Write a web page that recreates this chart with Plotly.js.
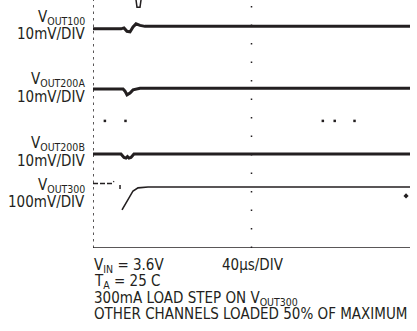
<!DOCTYPE html>
<html><head><meta charset="utf-8">
<script src="https://cdn.plot.ly/plotly-3.0.1.min.js"></script>
<style>html,body{margin:0;padding:0;background:#fff}#chart{width:417px;height:331px}</style>
</head><body><div id="chart"></div>
<script>
// time in µs (40µs/DIV, 10 DIV), vertical position in divisions (0 = bottom, 8 = top)
const v100X = [0, 35.3, 39.1, 42.9, 46.7, 50.5, 54.3, 59.3, 65.6, 400];
const v100Y = [7.07, 7.07, 7.10, 6.99, 6.97, 7.13, 7.23, 7.18, 7.15, 7.15];
const glitchX = [54.3, 55.5, 59.3, 60.6];
const glitchY = [8.0, 7.77, 7.77, 8.0];
const v200aX = [0, 37.9, 40.4, 42.9, 46.7, 50.5, 59.3, 400];
const v200aY = [5.13, 5.13, 5.06, 4.94, 5.0, 5.10, 5.15, 5.15];
const v200bX = [0, 35.3, 39.1, 41.6, 43.5, 45.4, 47.9, 51.7, 400];
const v200bY = [3.03, 3.03, 2.92, 2.90, 2.95, 2.90, 2.92, 3.03, 3.03];
const v300PreX = [0, 24, 26.5];
const v300PreY = [2.08, 2.08, 2.15];
const v300TickX = [34.1, 34.1];
const v300TickY = [2.03, 1.90];
const v300PostX = [36.6, 40.4, 45.4, 50.5, 56.8, 69.4, 400];
const v300PostY = [1.23, 1.39, 1.61, 1.84, 1.94, 1.97, 1.97];
const spikeX = [395];
const spikeY = [1.68];
const gridDotX = [15, 41, 290, 305, 330];
const gridDotY = [4.1, 4.1, 4.1, 4.1, 4.1];

const ink = '#231f20';
const F = '"DejaVu Sans Condensed", "Liberation Sans Narrow", Arial, sans-serif';
const FS = 15;
function tr(x, y, w, dash) {
  return {x: x, y: y, type: 'scatter', mode: 'lines', line: {color: ink, width: w, dash: dash || 'solid'}, hoverinfo: 'skip', showlegend: false};
}
const data = [
  tr(v100X, v100Y, 3), tr(glitchX, glitchY, 1.5),
  tr(v200aX, v200aY, 3), tr(v200bX, v200bY, 3),
  tr(v300PreX, v300PreY, 1.5, '5px,2px'), tr(v300TickX, v300TickY, 1.5),
  tr(v300PostX, v300PostY, 1.6),
  {x: spikeX, y: spikeY, type: 'scatter', mode: 'markers', marker: {color: ink, size: 4, symbol: 'diamond'}, showlegend: false, hoverinfo: 'skip'},
  {x: gridDotX, y: gridDotY, type: 'scatter', mode: 'markers', marker: {color: ink, size: 2.5, symbol: 'square'}, showlegend: false, hoverinfo: 'skip'}
];
const labels = [
  {t: 'V<sub>OUT100</sub>', y: 17}, {t: '10mV/DIV', y: 34},
  {t: 'V<sub>OUT200A</sub>', y: 79}, {t: '10mV/DIV', y: 97},
  {t: 'V<sub>OUT200B</sub>', y: 143}, {t: '10mV/DIV', y: 161},
  {t: 'V<sub>OUT300</sub>', y: 185}, {t: '100mV/DIV', y: 202}
];
const ann = labels.map(l => ({xref: 'paper', yref: 'paper', x: (87 - 93) / 317, y: (248 - l.y) / 248,
  xanchor: 'right', yanchor: 'middle', text: l.t, showarrow: false, font: {family: F, size: FS, color: ink}}));
const notes = [
  {t: 'V<sub>IN</sub> = 3.6V', x: 92, y: 265}, {t: '40μs/DIV', x: 220, y: 265},
  {t: 'T<sub>A</sub> = 25 C', x: 92, y: 281},
  {t: '300mA LOAD STEP ON V<sub>OUT300</sub>', x: 92, y: 298},
  {t: 'OTHER CHANNELS LOADED 50% OF MAXIMUM', x: 92, y: 314}
];
notes.forEach(n => ann.push({xref: 'paper', yref: 'paper', x: (n.x - 93) / 317, y: (248 - n.y) / 248,
  xanchor: 'left', yanchor: 'middle', text: n.t, showarrow: false, font: {family: F, size: FS, color: ink}}));

const layout = {
  width: 417, height: 331, margin: {l: 93, r: 7, t: 0, b: 83},
  paper_bgcolor: '#fff', plot_bgcolor: '#fff',
  xaxis: {range: [0, 400], showgrid: false, zeroline: false, showticklabels: false, ticks: '', showline: false},
  yaxis: {range: [0, 8], showgrid: false, zeroline: false, showticklabels: false, ticks: '', showline: false},
  shapes: [
    {type: 'line', xref: 'x', yref: 'y', x0: 0, x1: 0, y0: 0, y1: 8, line: {color: ink, width: 1.5, dash: '2.5px,4px'}},
    {type: 'line', xref: 'x', yref: 'y', x0: 200, x1: 200, y0: 0, y1: 8, line: {color: ink, width: 1.5, dash: '1.5px,17px'}},
    {type: 'line', xref: 'x', yref: 'y', x0: 0, x1: 400, y0: 0, y1: 0, line: {color: ink, width: 1.5}}
  ],
  annotations: ann
};
Plotly.newPlot('chart', data, layout, {staticPlot: true, displayModeBar: false});
</script></body></html>
